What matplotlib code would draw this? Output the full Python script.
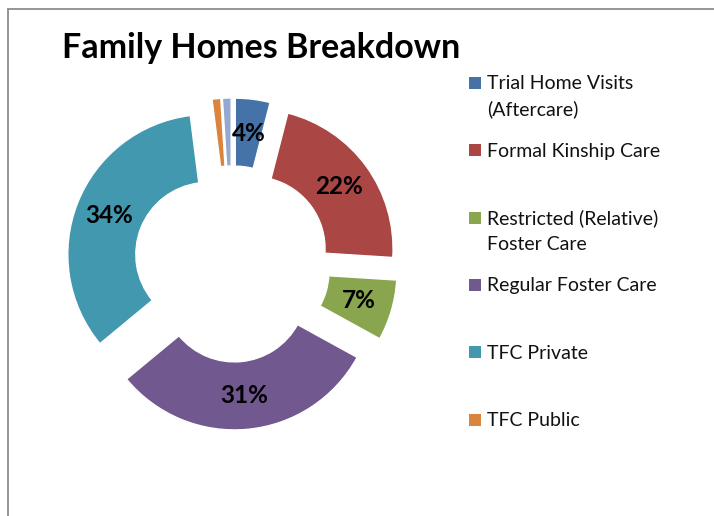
import matplotlib
matplotlib.use('Agg')
import matplotlib.pyplot as plt
from matplotlib.patches import Rectangle

# chart data
categories = ['Trial Home Visits\n(Aftercare)', 'Formal Kinship Care',
              'Restricted (Relative)\nFoster Care', 'Regular Foster Care',
              'TFC Private', 'TFC Public', 'Other']
shares = [4, 22, 7, 31, 34, 1, 1]
colors = ['#4572A7', '#AA4643', '#89A54E', '#71588F', '#4198AF', '#DB843D', '#93A9CF']
n_legend = 6   # last entry is cut off in the original legend

W, H = 714, 516
plt.rcParams['font.family'] = ['Lato', 'DejaVu Sans']

fig = plt.figure(figsize=(W / 100, H / 100), dpi=100)

def fx(px):
    return px / W

def fy(py):
    return 1 - py / H

# pie centre (232, 264) px, outer radius 140 px
cx, cy, R = 232, 264, 140
half = 400
ax = fig.add_axes([fx(cx - half / 2), fy(cy + half / 2), half / W, half / H])

ax.pie(shares, colors=colors, startangle=90, counterclock=False,
       explode=[0.186] * len(shares), radius=1,
       wedgeprops=dict(width=0.486, edgecolor='white', linewidth=1),
       autopct=lambda p: '%.0f%%' % p if p > 2 else '',
       pctdistance=0.757,
       textprops=dict(fontsize=17.5, fontweight='bold', color='black'))
lim = half / 2 / R
ax.set_xlim(-lim, lim)
ax.set_ylim(-lim, lim)
ax.set_aspect('auto')
ax.axis('off')

# chart title
fig.text(fx(261), fy(58), 'Family Homes Breakdown', ha='center', va='baseline',
         fontsize=24.5, fontweight='bold', color='black')

# legend drawn by hand to keep Excel's even spacing
base0, step, line_h = 89.3, 67.4, 26
for i in range(n_legend):
    yb = base0 + i * step
    fig.add_artist(Rectangle((fx(469), fy(yb - 0.5)), 12 / W, 12 / H,
                             transform=fig.transFigure, facecolor=colors[i],
                             edgecolor='none'))
    for k, line in enumerate(categories[i].split('\n')):
        fig.text(fx(487), fy(yb + k * line_h), line, ha='left', va='baseline',
                 fontsize=14, color='#111111')

# chart area border
fig.add_artist(Rectangle((fx(8), -0.2), 1.2, fy(8.5) + 0.2,
                         transform=fig.transFigure, fill=False,
                         edgecolor='#8c8c8c', linewidth=1.3))

fig.savefig('out.png', dpi=100, facecolor='white')
